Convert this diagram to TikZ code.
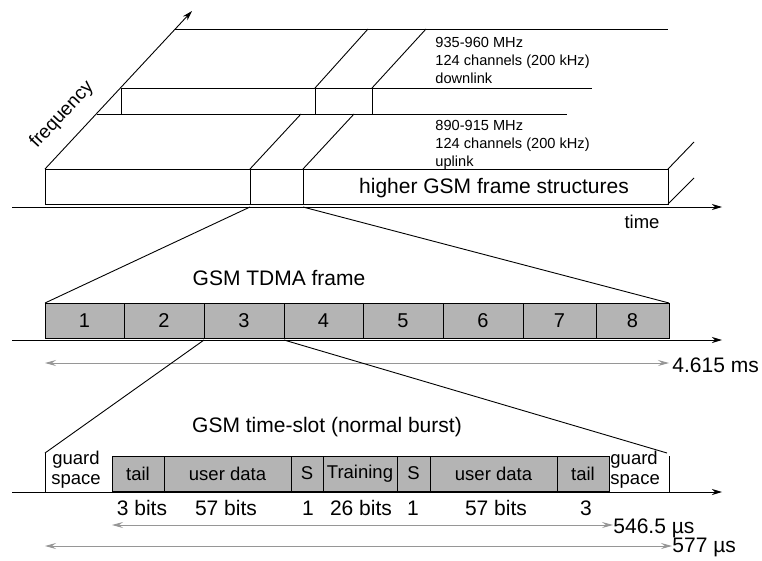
\documentclass[tikz,border=0pt]{standalone}
\usepackage{fontspec}
\setmainfont{Liberation Sans}
\usetikzlibrary{arrows.meta}
\definecolor{slotgray}{RGB}{180,180,180}
\definecolor{dimgray}{RGB}{150,150,150}
\begin{document}
\begin{tikzpicture}[x=1pt,y=-1pt,line width=0.9pt,
  frontbox/.style={draw,inner sep=0pt,outer sep=0pt,minimum height=35pt},
  upbox/.style={draw,inner sep=0pt,outer sep=0pt,minimum height=26pt},
  slotbox/.style={draw,fill=slotgray,inner sep=0pt,outer sep=0pt,minimum height=35pt,font=\fontsize{20}{22}\selectfont},
  burstbox/.style={draw,fill=slotgray,inner sep=0pt,outer sep=0pt,minimum height=35pt,font=\fontsize{18.5}{20}\selectfont},
  axisline/.style={-{Stealth[length=10pt,width=6pt,inset=3pt]}},
  dimline/.style={dimgray,line width=0.8pt,{Stealth[length=11pt,width=6pt,inset=4pt]}-{Stealth[length=11pt,width=6pt,inset=4pt]}},
  smalltxt/.style={inner sep=0pt,align=left,font=\fontsize{14.6}{18}\selectfont},
  bigtxt/.style={inner sep=0pt,font=\fontsize{21}{24}\selectfont},
  midtxt/.style={inner sep=0pt,font=\fontsize{18.5}{20}\selectfont}
]
\useasboundingbox (0,0) rectangle (762,560);

% ---------- top: frequency / time ----------
\coordinate (t0) at (12,207);
\coordinate (t1) at (722,207);
\node[frontbox,minimum width=205pt] (A) at (147.5,186.5) {};
\node[frontbox,minimum width=53pt] (B) at (276.5,186.5) {};
\node[frontbox,minimum width=365pt] (C) at (485.5,186.5) {};
\node[inner sep=0pt,font=\fontsize{21}{24}\selectfont] (Ct) at (494,188) {higher GSM frame structures};

% lower band back plane
\coordinate (lb0) at (97,114);
\coordinate (lb1) at (567,114);
\draw (lb0) -- (lb1);
\draw (B.north west) -- ++(51,-55);
\draw (C.north west) -- ++(51,-55);
\draw (C.north east) -- ++(26,-27);
\draw (C.south east) -- ++(26,-26);

% upper band
\node[upbox,minimum width=194pt] (D) at (218,101) {};
\node[upbox,minimum width=57pt] (E) at (343.5,101) {};
\coordinate (ue) at (592,88);
\draw (E.north east) -- (ue);
\draw (E.south east) -- ++(0,0);
\draw (E.north west) -- ++(53,-59);
\draw (E.north east) -- ++(54,-59);
\coordinate (ub0) at (175,29);
\coordinate (ub1) at (668,29);
\draw (ub0) -- (ub1);

% axes
\coordinate (f1) at (192,11);
\draw[axisline] (A.north west) -- (f1);
\draw[axisline] (t0) -- (t1);
\node[inner sep=0pt,rotate=47,font=\fontsize{19}{21}\selectfont] (flab) at (62,115) {frequency};
\node[inner sep=0pt,font=\fontsize{18.5}{20}\selectfont] (tlab) at (642,222) {time};

\node[smalltxt,anchor=west] (dl) at (435,60) {935-960 MHz\\124 channels (200 kHz)\\downlink};
\node[smalltxt,anchor=west] (ul) at (435,145) {890-915 MHz\\124 channels (200 kHz)\\uplink};

% ---------- middle: TDMA frame ----------
\coordinate (m0) at (12,340);
\coordinate (m1) at (722,340);
\foreach \i/\a/\b in {1/45/124,2/124/204,3/204/284,4/284/363,5/363/443,6/443/523,7/523/596,8/596/669}{
  \pgfmathsetmacro\w{\b-\a}
  \pgfmathsetmacro\c{(\a+\b)/2}
  \node[slotbox,minimum width=\w pt] (s\i) at (\c,320.5) {\i};
}
\draw[axisline] (m0) -- (m1);
\draw (A.south east |- t0) -- (s1.north west);
\draw (B.south east |- t0) -- (s8.north east);
\node[bigtxt] (tdma) at (279,278) {GSM TDMA frame};
\coordinate (da) at (45,363);
\coordinate (db) at (669,363);
\draw[dimline] (da) -- (db);
\node[bigtxt,anchor=west] (dlab) at (672,365) {4.615 ms};

% ---------- bottom: time slot ----------
\coordinate (b0) at (12,492);
\coordinate (b1) at (722,492);
\coordinate (gl) at (45,453);
\coordinate (gr) at (667,453);
\coordinate (grv) at (669,456);
\draw (s3.south west |- m0) -- (gl);
\draw (s4.south west |- m0) -- (gr);
\draw (gl) -- (gl |- b0);
\draw (grv) -- (grv |- b0);
\foreach \n/\a/\b/\t in {p1/112/164/tail,p2/164/291/user data,p3/291/323/S,p4/323/397/Training,p5/397/430/S,p6/430/557/user data,p7/557/609/tail}{
  \pgfmathsetmacro\w{\b-\a}
  \pgfmathsetmacro\c{(\a+\b)/2}
  \node[burstbox,minimum width=\w pt] (\n) at (\c,473.5) {\t};
}
\draw[axisline] (b0) -- (b1);
\node[midtxt,align=center] (gsl) at (76,470) {guard\\space};
\node[midtxt,align=left,anchor=west] (gsr) at (610,470) {guard\\space};
\node[bigtxt] (slot) at (327,427) {GSM time-slot (normal burst)};
\node[bigtxt] (bt1) at (142,508) {3 bits};
\node[bigtxt] (bt2) at (226,508) {57 bits};
\node[bigtxt] (bt3) at (308,508) {1};
\node[bigtxt] (bt4) at (361,508) {26 bits};
\node[bigtxt] (bt5) at (413,508) {1};
\node[bigtxt] (bt6) at (496,508) {57 bits};
\node[bigtxt] (bt7) at (586,508) {3};
\coordinate (ea) at (112,525);
\coordinate (eb) at (613,525);
\draw[dimline] (ea) -- (eb);
\node[bigtxt,anchor=west] (elab) at (613,528) {546.5 µs};
\coordinate (fa) at (45,546);
\coordinate (fb) at (672,546);
\draw[dimline] (fa) -- (fb);
\node[bigtxt,anchor=west] (flab2) at (672,547) {577 µs};
\end{tikzpicture}
\end{document}
